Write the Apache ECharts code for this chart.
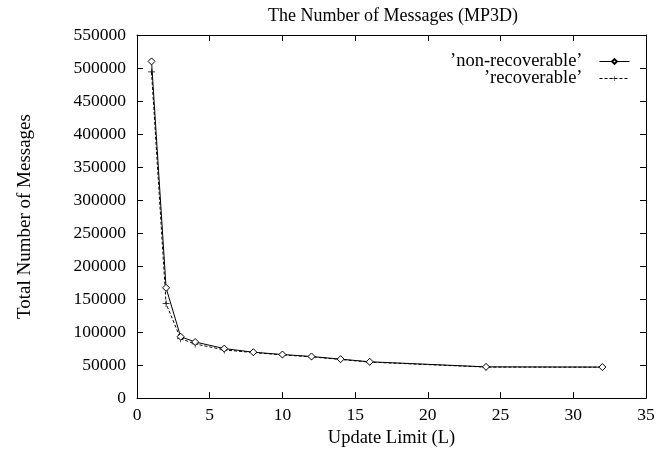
<!DOCTYPE html>
<html>
<head>
<meta charset="utf-8">
<script src="https://cdn.jsdelivr.net/npm/echarts@6/dist/echarts.min.js"></script>
<style>
  html, body { margin: 0; padding: 0; background: #fff; }
  #myChart { width: 659px; height: 453px; }
</style>
</head>
<body>
<div id="myChart"></div>
<script>
// update limits (L)
var updateLimits = [1, 2, 3, 4, 6, 8, 10, 12, 14, 16, 24, 32];
// total number of messages
var nonRecoverable = [510000, 167000, 93000, 85000, 75000, 69500, 66000, 63000, 59000, 55000, 47300, 47000];
var recoverable = [494000, 143000, 90000, 82000, 73000, 69000, 65500, 62500, 58500, 54500, 47000, 46800];

var serif = 'Liberation Serif';
var plusSymbol = 'path://M4.5,0H5.5V4.5H10V5.5H5.5V10H4.5V5.5H0V4.5H4.5Z';

function pairs(xs, ys) {
    return xs.map(function (x, i) { return [x, ys[i]]; });
}

// inward ticks, no labels: used for the mirrored top / right axes
var mirrorTicks = {
    axisLine: { show: true, onZero: false, lineStyle: { color: '#000', width: 1 } },
    axisTick: { show: true, inside: true, length: 6, lineStyle: { color: '#000' } },
    axisLabel: { show: false },
    splitLine: { show: false }
};

var myChart = echarts.init(document.getElementById('myChart'));

var option = {
    animation: false,
    backgroundColor: '#fff',
    title: {
        text: 'The Number of Messages (MP3D)',
        left: 388,
        top: 2,
        textAlign: 'center',
        textStyle: { fontFamily: serif, fontSize: 18, fontWeight: 'normal', color: '#000' }
    },
    legend: {
        orient: 'vertical',
        right: 24,
        top: 47,
        align: 'right',
        itemWidth: 30,
        itemHeight: 6,
        itemGap: -2,
        lineStyle: { width: 1 },
        textStyle: { fontFamily: serif, fontSize: 18.5, color: '#000', padding: [0, 12, 0, 0] },
        data: ['\u2019non-recoverable\u2019', '\u2019recoverable\u2019']
    },
    grid: { left: 137, right: 13, top: 35, bottom: 54 },
    xAxis: [Object.assign({
        type: 'value',
        min: 0, max: 35, interval: 5,
        name: 'Update Limit (L)',
        nameLocation: 'middle',
        nameGap: 28,
        nameTextStyle: { fontFamily: serif, fontSize: 18.5, color: '#000' }
    }, mirrorTicks, {
        axisLabel: { fontFamily: serif, fontSize: 17.5, color: '#000', margin: 8 }
    }), Object.assign({
        type: 'value', position: 'top',
        min: 0, max: 35, interval: 5
    }, mirrorTicks)],
    yAxis: [Object.assign({
        type: 'value',
        min: 0, max: 550000, interval: 50000,
        name: 'Total Number of Messages',
        nameLocation: 'middle',
        nameGap: 102,
        nameRotate: 90,
        nameTextStyle: { fontFamily: serif, fontSize: 19, color: '#000' }
    }, mirrorTicks, {
        axisLabel: {
            fontFamily: serif, fontSize: 17.5, color: '#000', margin: 11,
            formatter: function (v) { return String(v); }
        }
    }), Object.assign({
        type: 'value', position: 'right',
        min: 0, max: 550000, interval: 50000
    }, mirrorTicks)],
    series: [
        {
            name: '\u2019non-recoverable\u2019',
            type: 'line',
            data: pairs(updateLimits, nonRecoverable),
            symbol: 'diamond',
            symbolSize: 7,
            lineStyle: { color: '#000', width: 1 },
            itemStyle: { color: '#fff', borderColor: '#000', borderWidth: 1 },
            z: 3
        },
        {
            name: '\u2019recoverable\u2019',
            type: 'line',
            data: pairs(updateLimits, recoverable),
            symbol: plusSymbol,
            symbolSize: 7,
            lineStyle: { color: '#000', width: 1, type: [3, 2] },
            itemStyle: { color: '#000' },
            z: 2
        }
    ]
};

myChart.setOption(option);
</script>
</body>
</html>
